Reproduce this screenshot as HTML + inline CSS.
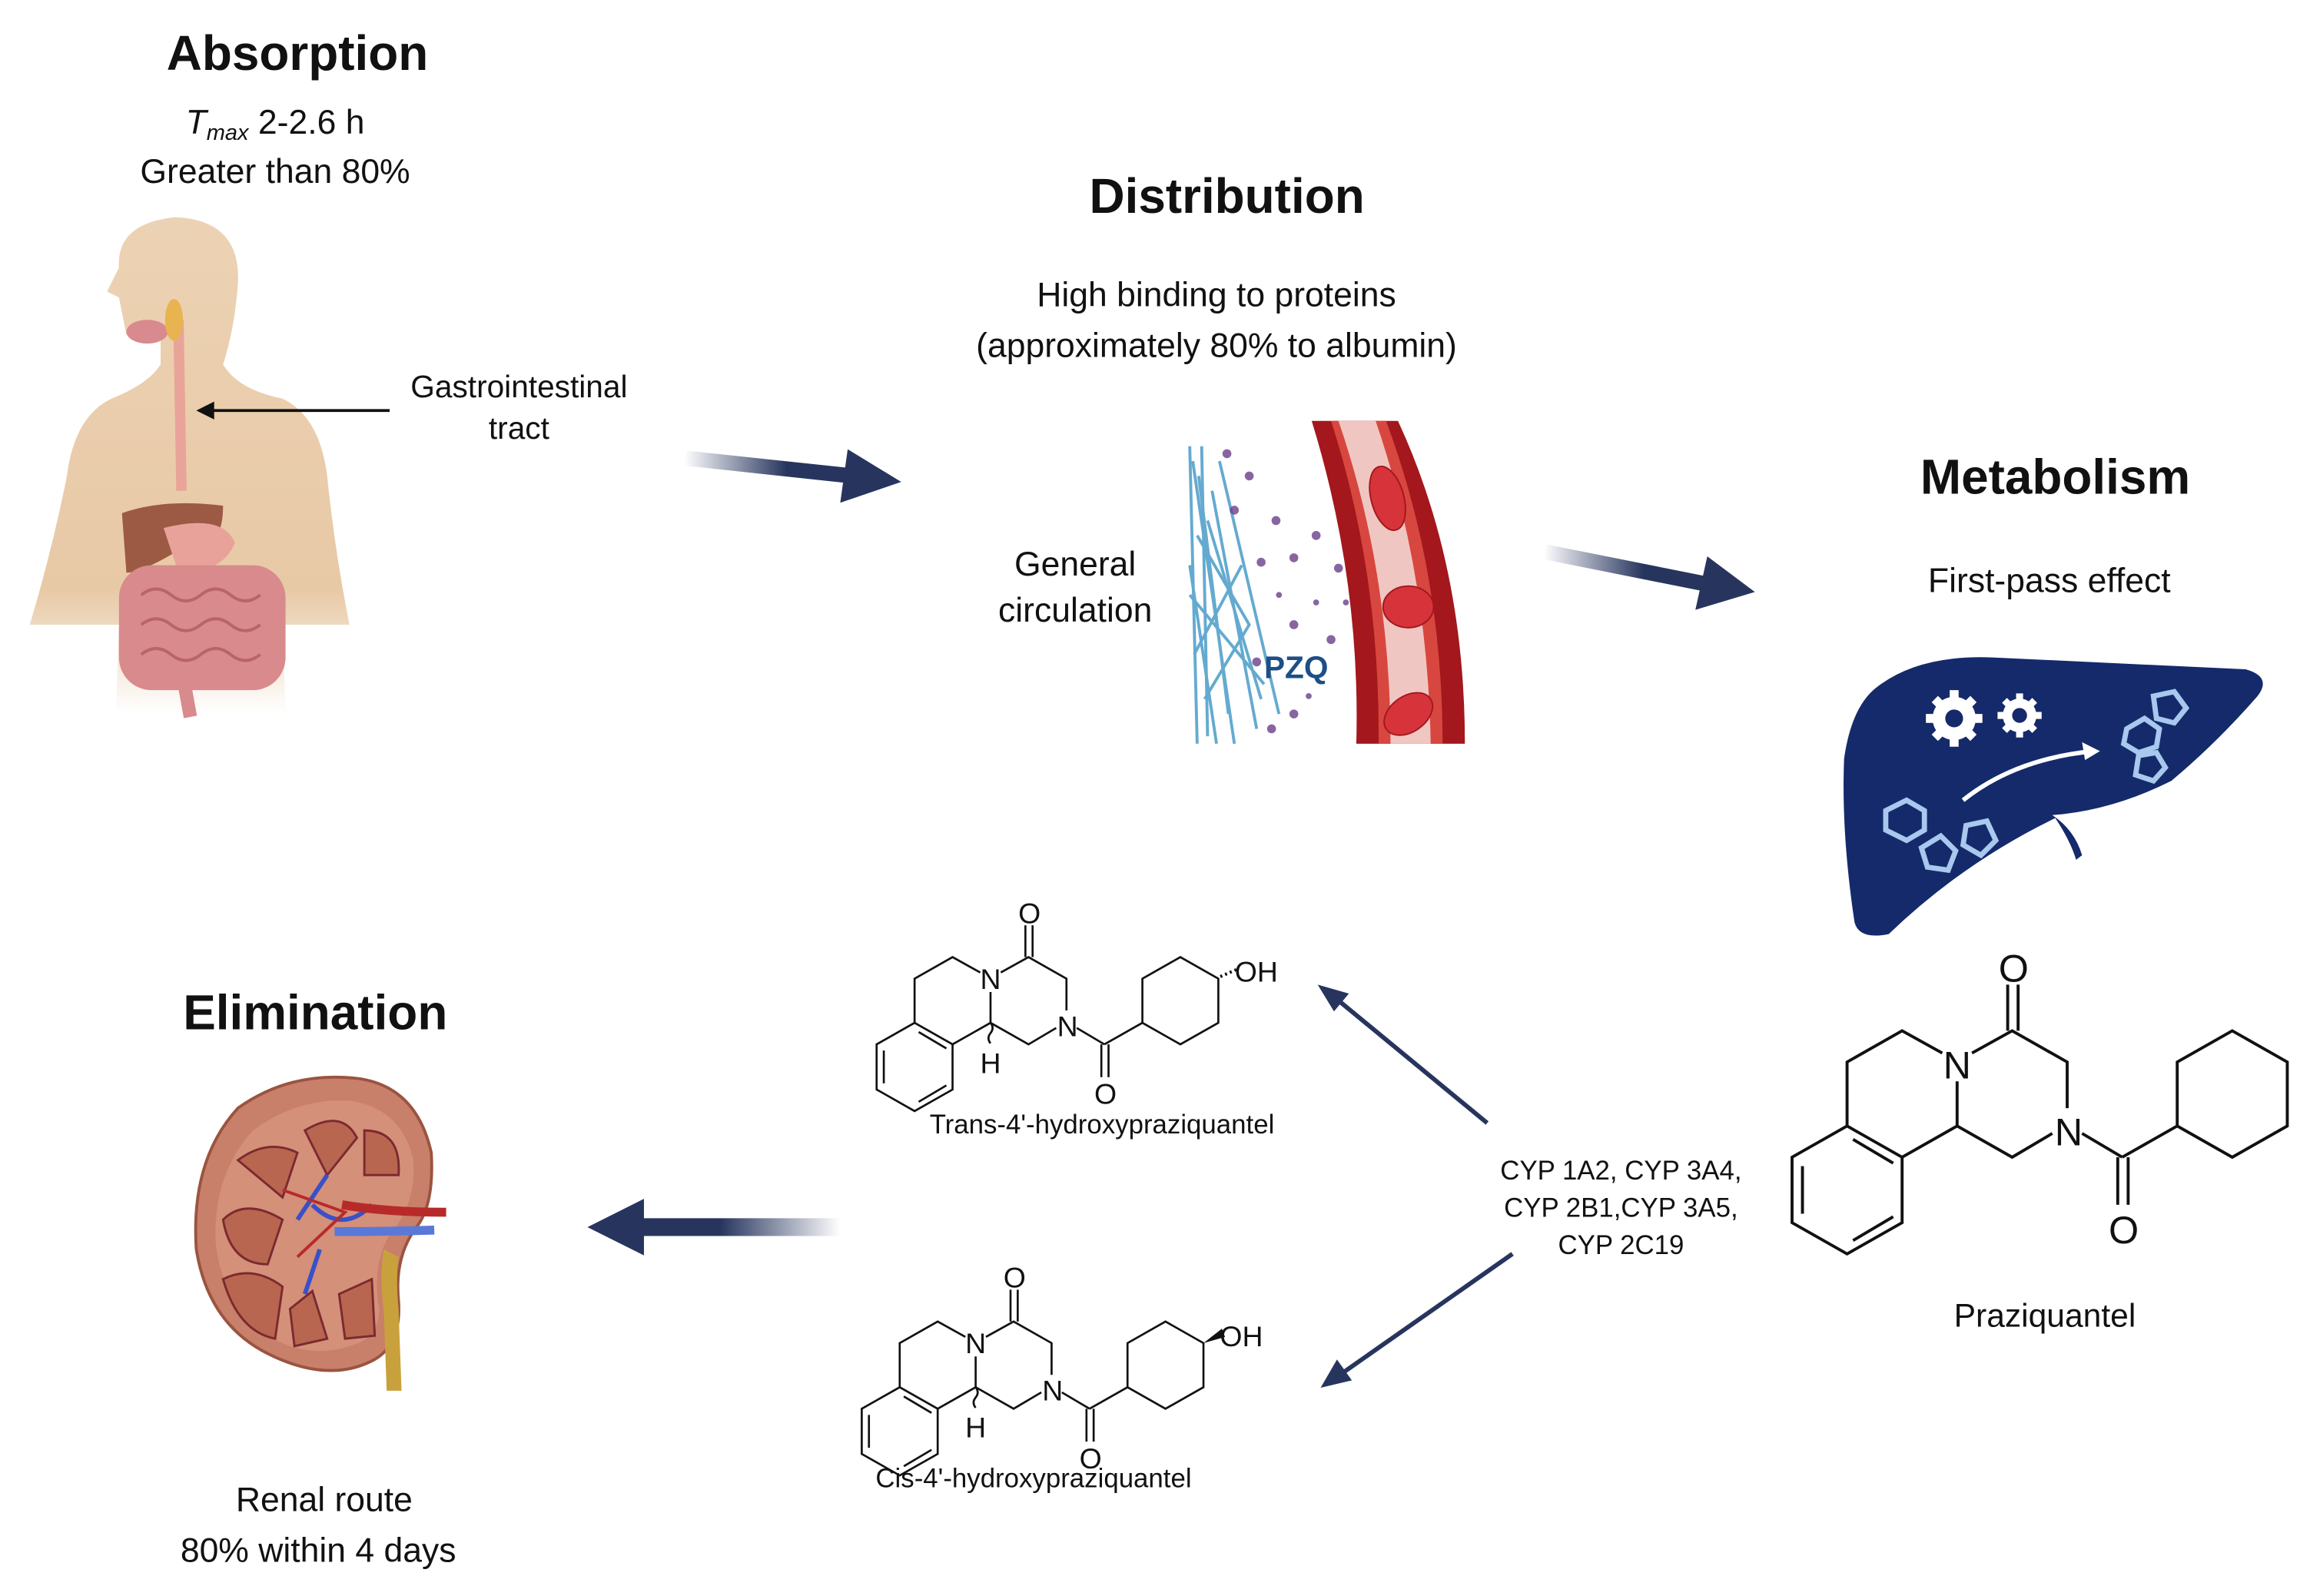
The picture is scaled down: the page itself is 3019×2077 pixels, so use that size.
<!DOCTYPE html>
<html><head><meta charset="utf-8"><style>
html,body{margin:0;padding:0;background:#fff;}
svg{display:block;}
text{font-family:"Liberation Sans",sans-serif;fill:#111;}
</style></head><body>
<svg width="3019" height="2077" viewBox="0 0 1560 1073" preserveAspectRatio="none" xmlns="http://www.w3.org/2000/svg">
<defs>
<linearGradient id="ga" x1="0" x2="1" y1="0" y2="0"><stop offset="0" stop-color="#27355e" stop-opacity="0"/><stop offset="0.6" stop-color="#27355e"/><stop offset="1" stop-color="#27355e"/></linearGradient>
<linearGradient id="gb" x1="1" x2="0" y1="0" y2="0"><stop offset="0" stop-color="#27355e" stop-opacity="0"/><stop offset="0.6" stop-color="#27355e"/><stop offset="1" stop-color="#27355e"/></linearGradient>
<linearGradient id="skin" x1="0" x2="0" y1="0" y2="1"><stop offset="0" stop-color="#ecd2b4"/><stop offset="0.75" stop-color="#e8c9a6"/><stop offset="1" stop-color="#e8c9a6" stop-opacity="0"/></linearGradient>
<g id="pzq" fill="none" stroke="#111" stroke-width="2">
<polygon points="1242,757 1279,778 1279,822 1242,843 1205,822 1205,778"/>
<line x1="1212" y1="784" x2="1212" y2="816"/><line x1="1246" y1="834" x2="1273" y2="818"/><line x1="1246" y1="766" x2="1273" y2="782"/>
<polyline points="1242,757 1242,714 1279,693 1306,708"/>
<polyline points="1316,727 1316,757 1279,778"/>
<polyline points="1316,757 1353,778 1380,762"/>
<polyline points="1326,708 1353,693 1390,714 1390,745"/>
<line x1="1350" y1="693" x2="1350" y2="662"/><line x1="1357" y1="693" x2="1357" y2="662"/>
<line x1="1400" y1="762" x2="1427" y2="778"/>
<line x1="1424" y1="778" x2="1424" y2="810"/><line x1="1431" y1="778" x2="1431" y2="810"/>
<line x1="1427" y1="778" x2="1464" y2="757"/>
<polygon points="1464,757 1464,714 1501,693 1538,714 1538,757 1501,778"/>
</g>
<g id="gear"><circle r="14"/><g stroke-width="6"><line x1="0" y1="-19" x2="0" y2="19"/><line x1="-19" y1="0" x2="19" y2="0"/><line x1="-13" y1="-13" x2="13" y2="13"/><line x1="-13" y1="13" x2="13" y2="-13"/></g></g>
</defs>

<!-- Absorption -->
<text x="200" y="47" font-size="33" font-weight="bold" text-anchor="middle">Absorption</text>
<text x="185" y="90" font-size="23" text-anchor="middle"><tspan font-style="italic">T</tspan><tspan font-style="italic" font-size="15" dy="4">max</tspan><tspan dy="-4"> 2-2.6 h</tspan></text>
<text x="185" y="123" font-size="23" text-anchor="middle">Greater than 80%</text>

<!-- body -->
<path d="M20,420 Q35,370 45,320 Q50,280 75,268 Q100,258 108,245 L108,225 Q95,232 85,225 L80,200 L72,196 L80,180 Q78,150 118,146 Q162,148 160,190 Q158,220 150,245 Q160,262 190,268 Q215,280 220,320 Q225,370 235,420 L190,420 L192,480 L78,480 L80,420 Z" fill="url(#skin)"/>
<path d="M120,215 L122,330" stroke="#e9a49a" stroke-width="7" fill="none"/>
<ellipse cx="99" cy="223" rx="14" ry="8" fill="#d98a8e"/>
<ellipse cx="117" cy="215" rx="6" ry="14" fill="#e8b450"/>
<path d="M82,345 Q110,335 150,340 Q150,375 120,370 Q95,385 85,385 Z" fill="#9c5a44"/>
<path d="M110,355 Q150,345 158,365 Q150,385 120,385 Z" fill="#e9a29a"/>
<rect x="80" y="380" width="112" height="84" rx="22" fill="#d88a8c"/>
<path d="M95,400 q10,-8 20,0 t20,0 t20,0 t20,0 M95,420 q10,-8 20,0 t20,0 t20,0 t20,0 M95,440 q10,-8 20,0 t20,0 t20,0 t20,0" stroke="#b96468" stroke-width="2" fill="none"/>
<path d="M124,460 L128,482" stroke="#d88a8c" stroke-width="9"/>
<line x1="262" y1="276" x2="142" y2="276" stroke="#111" stroke-width="2"/>
<polygon points="132,276 144,270 144,282" fill="#111"/>
<text x="349" y="267" font-size="21" text-anchor="middle">Gastrointestinal</text>
<text x="349" y="295" font-size="21" text-anchor="middle">tract</text>

<!-- arrow 1 -->
<path d="M462,303 L575,315 L572,325 L460,313 Z" fill="url(#ga)"/>
<polygon points="570,302 606,324 565,338" fill="#27355e"/>

<!-- Distribution -->
<text x="825" y="143" font-size="33" font-weight="bold" text-anchor="middle">Distribution</text>
<text x="818" y="206" font-size="23" text-anchor="middle">High binding to proteins</text>
<text x="818" y="240" font-size="23" text-anchor="middle">(approximately 80% to albumin)</text>
<text x="723" y="387" font-size="23" text-anchor="middle">General</text>
<text x="723" y="418" font-size="23" text-anchor="middle">circulation</text>
<g stroke="#4a9cc8" stroke-width="2" fill="none" opacity="0.85">
<path d="M802,310 L830,500 M808,300 L812,495 M815,330 L845,490 M805,360 L840,420 L810,470 M820,310 L860,480 M800,400 L850,460 M803,440 L835,380"/>
<path d="M806,320 L826,480 M812,350 L848,470 M800,380 L818,500 M800,300 L805,500"/>
</g>
<g fill="#6a3f8a" opacity="0.8">
<circle cx="825" cy="305" r="3"/><circle cx="840" cy="320" r="3"/><circle cx="830" cy="343" r="3"/><circle cx="858" cy="350" r="3"/><circle cx="885" cy="360" r="3"/><circle cx="870" cy="375" r="3"/><circle cx="860" cy="400" r="2"/><circle cx="900" cy="382" r="3"/><circle cx="915" cy="388" r="3"/><circle cx="870" cy="420" r="3"/><circle cx="895" cy="430" r="3"/><circle cx="885" cy="405" r="2"/><circle cx="845" cy="445" r="3"/><circle cx="870" cy="480" r="3"/><circle cx="855" cy="490" r="3"/><circle cx="880" cy="468" r="2"/><circle cx="905" cy="405" r="2"/><circle cx="848" cy="378" r="3"/>
</g>
<text x="850" y="456" font-size="21" font-weight="bold" style="fill:#1d4f86">PZQ</text>
<path d="M882,283 L940,283 Q985,380 985,500 L912,500 Q915,390 882,283 Z" fill="#a3171d"/>
<path d="M895,283 L932,283 Q970,385 970,500 L927,500 Q928,385 895,283 Z" fill="#d8473f"/>
<path d="M900,283 L925,283 Q960,385 962,500 L935,500 Q935,385 900,283 Z" fill="#f0c6c2"/>
<ellipse cx="933" cy="335" rx="11" ry="22" transform="rotate(-15 933 335)" fill="#d6333a" stroke="#a3171d"/>
<ellipse cx="947" cy="408" rx="17" ry="14" fill="#d6333a" stroke="#a3171d"/>
<ellipse cx="947" cy="480" rx="18" ry="12" transform="rotate(-35 947 480)" fill="#d6333a" stroke="#a3171d"/>

<!-- arrow 2 -->
<path d="M1040,366 L1150,388 L1148,398 L1038,376 Z" fill="url(#ga)"/>
<polygon points="1148,374 1180,398 1140,410" fill="#27355e"/>

<!-- Metabolism -->
<text x="1382" y="332" font-size="33" font-weight="bold" text-anchor="middle">Metabolism</text>
<text x="1378" y="398" font-size="23" text-anchor="middle">First-pass effect</text>
<path d="M1262,462 Q1290,440 1340,442 L1510,450 Q1528,455 1518,468 Q1490,500 1460,525 Q1420,545 1380,548 Q1395,558 1400,575 L1396,578 Q1392,565 1382,550 Q1320,580 1270,628 Q1250,632 1247,620 Q1238,560 1240,510 Q1245,475 1262,462 Z" fill="#152a6b"/>
<g fill="#fff" stroke="#fff"><use href="#gear" transform="translate(1314,483)"/><use href="#gear" transform="translate(1358,481) scale(0.78)"/></g>
<circle cx="1314" cy="483" r="6" fill="#152a6b"/><circle cx="1358" cy="481" r="5" fill="#152a6b"/>
<path d="M1320,538 Q1355,510 1408,505" stroke="#fff" stroke-width="3" fill="none"/>
<polygon points="1412,505 1400,499 1402,511" fill="#fff"/>
<g stroke="#a8c8ee" stroke-width="3.5" fill="none">
<polygon points="1268,545 1282,538 1294,545 1294,558 1282,565 1268,558"/>
<polygon points="1292,570 1305,562 1315,572 1310,585 1296,583"/>
<polygon points="1322,555 1336,552 1342,565 1332,575 1320,568"/>
<polygon points="1430,490 1442,483 1452,490 1450,502 1438,506 1428,500"/>
<polygon points="1448,468 1462,465 1470,476 1462,486 1450,483"/>
<polygon points="1438,508 1450,506 1456,516 1448,525 1436,521"/>
</g>

<!-- Praziquantel -->
<use href="#pzq"/>
<g font-size="26" text-anchor="middle">
<text x="1316" y="725">N</text><text x="1391" y="770">N</text><text x="1354" y="660">O</text><text x="1428" y="836">O</text>
</g>
<text x="1375" y="892" font-size="22" text-anchor="middle">Praziquantel</text>

<!-- CYP -->
<text x="1090" y="793" font-size="18" text-anchor="middle">CYP 1A2, CYP 3A4,</text>
<text x="1090" y="818" font-size="18" text-anchor="middle">CYP 2B1,CYP 3A5,</text>
<text x="1090" y="843" font-size="18" text-anchor="middle">CYP 2C19</text>
<line x1="1000" y1="755" x2="898" y2="671" stroke="#27355e" stroke-width="3"/>
<polygon points="886,662 907,668 897,680" fill="#27355e"/>
<line x1="1017" y1="843" x2="900" y2="925" stroke="#27355e" stroke-width="3"/>
<polygon points="888,933 899,914 909,928" fill="#27355e"/>

<!-- Trans metabolite -->
<g transform="translate(-242,165.3) scale(0.69)"><use href="#pzq"/>
<g font-size="28" text-anchor="middle"><text x="1316" y="724">N</text><text x="1391" y="770">N</text><text x="1354" y="660">O</text><text x="1428" y="836">O</text><text x="1316" y="806">H</text><text x="1575" y="717">OH</text></g>
<path d="M1316,757 q4,5 0,10 q-4,5 0,10" stroke="#111" stroke-width="2" fill="none"/>
<line x1="1540" y1="712" x2="1556" y2="705" stroke="#111" stroke-width="3" stroke-dasharray="2,3"/>
</g>
<text x="741" y="762" font-size="18" text-anchor="middle">Trans-4'-hydroxypraziquantel</text>

<!-- Cis metabolite -->
<g transform="translate(-252,410.3) scale(0.69)"><use href="#pzq"/>
<g font-size="28" text-anchor="middle"><text x="1316" y="724">N</text><text x="1391" y="770">N</text><text x="1354" y="660">O</text><text x="1428" y="836">O</text><text x="1316" y="806">H</text><text x="1575" y="717">OH</text></g>
<path d="M1316,757 q4,5 0,10 q-4,5 0,10" stroke="#111" stroke-width="2" fill="none"/>
<polygon points="1538,714 1556,700 1559,708" fill="#111"/>
</g>
<text x="695" y="1000" font-size="18" text-anchor="middle">Cis-4'-hydroxypraziquantel</text>

<!-- arrow 3 -->
<path d="M565,819 L430,819 L430,831 L565,831 Z" fill="url(#gb)"/>
<polygon points="395,825 433,806 433,844" fill="#27355e"/>

<!-- Elimination -->
<text x="212" y="692" font-size="33" font-weight="bold" text-anchor="middle">Elimination</text>
<path d="M240,725 Q280,730 290,775 Q292,810 280,825 Q265,845 268,875 Q270,905 250,915 Q220,930 180,910 Q140,890 132,840 Q128,780 160,745 Q195,720 240,725 Z" fill="#c8806a" stroke="#9a5440" stroke-width="2"/>
<path d="M235,740 Q270,745 278,780 Q280,810 262,830 Q250,850 255,880 Q255,900 235,905 Q205,915 175,895 Q148,870 145,835 Q143,790 170,760 Q200,738 235,740 Z" fill="#e0a088" opacity="0.5"/>
<g fill="#b8664f" stroke="#7a2a30" stroke-width="1.5">
<path d="M160,780 Q180,765 200,775 L190,805 Z"/><path d="M205,760 Q230,745 240,765 L220,790 Z"/><path d="M245,760 Q270,760 268,790 L245,790 Z"/>
<path d="M150,820 Q165,805 190,820 L180,850 Q155,850 150,820 Z"/><path d="M150,860 Q170,850 190,865 L185,900 Q160,895 150,860 Z"/><path d="M195,880 L210,868 L220,900 L198,905 Z"/><path d="M228,870 L250,860 L252,898 L232,900 Z"/>
</g>
<path d="M200,820 L220,790 M215,840 L205,870 M210,810 Q230,830 250,810" stroke="#3a50c8" stroke-width="3" fill="none"/>
<path d="M258,840 Q255,860 258,880 L260,935 L270,935 L268,880 Q266,860 268,845 Z" fill="#c9a13c"/>
<path d="M230,810 Q260,815 300,815" stroke="#b82a2a" stroke-width="6" fill="none"/>
<path d="M225,828 Q260,828 292,827" stroke="#5a78d8" stroke-width="6" fill="none"/>
<path d="M190,800 L232,815 L200,845" stroke="#b82a2a" stroke-width="2" fill="none"/>
<text x="218" y="1016" font-size="23" text-anchor="middle">Renal route</text>
<text x="214" y="1050" font-size="23" text-anchor="middle">80% within 4 days</text>
</svg>
</body></html>
